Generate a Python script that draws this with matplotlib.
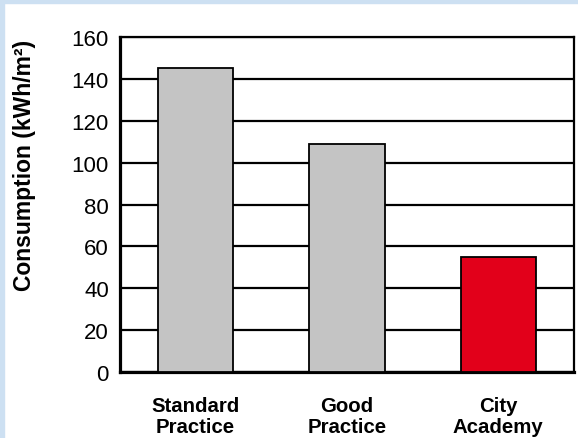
import matplotlib
matplotlib.use("Agg")
import matplotlib.pyplot as plt
from matplotlib.patches import Rectangle

categories = ["Standard\nPractice", "Good\nPractice", "City\nAcademy"]
consumption = [145, 109, 55]
bar_colors = ["#c4c4c4", "#c4c4c4", "#e2001a"]
yticks = [0, 20, 40, 60, 80, 100, 120, 140, 160]

plt.rcParams["font.family"] = ["Liberation Sans", "DejaVu Sans"]

fig = plt.figure(figsize=(5.78, 4.39), dpi=100)
# light blue frame along the top and left edge
fig.patches.append(Rectangle((0, 0), 3.5 / 578, 1, transform=fig.transFigure,
                             color="#cde0f2", zorder=0))
fig.patches.append(Rectangle((0, 1 - 4 / 439), 1, 4 / 439, transform=fig.transFigure,
                             color="#cde0f2", zorder=0))

ax = fig.add_axes([120 / 578, 66 / 439, 454 / 578, 335 / 439])
x = range(len(categories))
ax.bar(x, consumption, width=0.5, color=bar_colors, edgecolor="black",
       linewidth=1.3, zorder=3)

ax.set_xlim(-0.5, 2.5)
ax.set_ylim(0, 160)
ax.set_yticks(yticks)
ax.set_xticks(list(x))
ax.set_xticklabels(categories, fontsize=14.7, fontweight="bold", linespacing=1.13)
ax.tick_params(axis="y", length=0, pad=8, labelsize=16)
ax.tick_params(axis="x", length=0, pad=17)
ax.yaxis.grid(True, color="black", linewidth=1.6, zorder=0)
ax.set_axisbelow(True)

for side in ["left", "bottom"]:
    ax.spines[side].set_linewidth(2.3)
for side in ["top", "right"]:
    ax.spines[side].set_linewidth(1.6)

ax.set_ylabel("Consumption (kWh/m²)", fontsize=16.5, fontweight="bold")
ax.yaxis.set_label_coords(-0.185, 0.62)

fig.savefig("out.png", dpi=100)
